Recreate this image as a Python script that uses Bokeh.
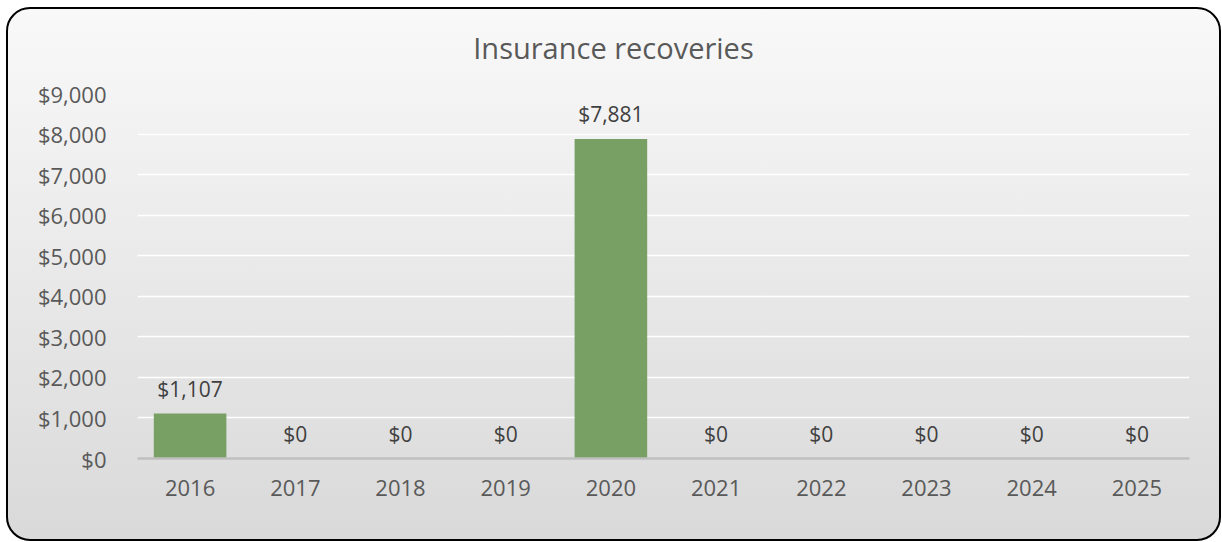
from bokeh.plotting import figure
from bokeh.layouts import column
from bokeh.models import ColumnDataSource, LabelSet, Div, NumeralTickFormatter, FixedTicker, Range1d
from bokeh.core.properties import value
from bokeh.embed import file_html
from bokeh.resources import INLINE

years = ["2016", "2017", "2018", "2019", "2020", "2021", "2022", "2023", "2024", "2025"]
values = [1107, 0, 0, 0, 7881, 0, 0, 0, 0, 0]
y_ticks = [0, 1000, 2000, 3000, 4000, 5000, 6000, 7000, 8000, 9000]
title_text = "Insurance recoveries"

labels = ["${:,}".format(v) for v in values]
src = ColumnDataSource(dict(x=years, top=values, label=labels))

FONT = "Open Sans"
W, H_TITLE, H_PLOT = 1215, 60, 474

title = Div(text=title_text, width=W, height=H_TITLE, margin=(0, 0, 0, 0), styles={
    "font-family": "'Open Sans'",
    "font-size": "29px",
    "color": "#595959",
    "text-align": "center",
    "padding-top": "21px",
    "box-sizing": "border-box",
    "line-height": "normal",
})

p = figure(x_range=years, y_range=Range1d(0, 9000), width=W, height=H_PLOT,
           output_backend="svg", toolbar_location=None,
           min_border_left=131, min_border_right=32, min_border_top=26, min_border_bottom=83)
p.border_fill_alpha = 0
p.background_fill_alpha = 0
p.outline_line_color = None

p.vbar(x="x", top="top", width=0.69, source=src, fill_color="#789F64", line_color=None)

p.add_layout(LabelSet(x="x", y="top", text="label", source=src, y_offset=25,
                      text_align="center", text_baseline="middle",
                      text_font_size="21px", text_color="#404040", text_font=value(FONT)))

p.yaxis.ticker = FixedTicker(ticks=y_ticks)
p.yaxis.formatter = NumeralTickFormatter(format="$0,0")
p.yaxis.axis_line_color = None
p.yaxis.major_tick_line_color = None
p.yaxis.minor_tick_line_color = None
p.yaxis.major_tick_out = 0
p.yaxis.major_label_standoff = 31

p.xaxis.axis_line_color = "#bfbfbf"
p.xaxis.axis_line_width = 2.5
p.xaxis.major_tick_line_color = None
p.xaxis.major_tick_out = 0
p.xaxis.major_label_standoff = 21

for ax in (p.xaxis, p.yaxis):
    ax.major_label_text_font = FONT
    ax.major_label_text_font_size = "22px"
    ax.major_label_text_color = "#595959"

p.xgrid.grid_line_color = None
p.ygrid.grid_line_color = "#ffffff"
p.ygrid.grid_line_width = 1.5
p.ygrid.ticker = FixedTicker(ticks=y_ticks)

layout = column(title, p, spacing=0)
layout.styles = {
    "background": "linear-gradient(to bottom, #f9f9f9 0%, #d9d9d9 100%)",
    "outline": "2px solid #000000",
    "outline-offset": "-2px",
    "border-radius": "24px",
    "transform": "translate(6px, 7px)",
}

open("out.html", "w").write(file_html(layout, INLINE))
